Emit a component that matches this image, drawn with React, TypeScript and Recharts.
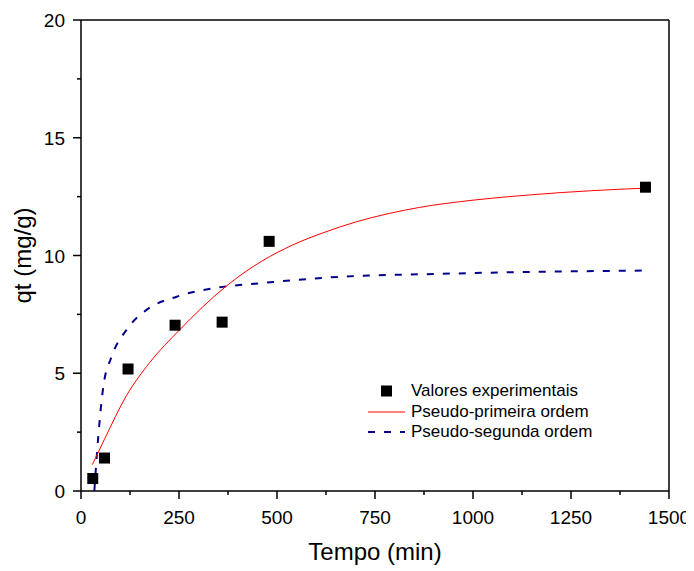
import React from "react";
import {
  ComposedChart,
  Line,
  Scatter,
  XAxis,
  YAxis,
  ReferenceLine,
  Legend,
} from "recharts";

// experimental points (t in min, qt in mg/g)
const expTime = [30, 60, 120, 240, 360, 480, 1440];
const expQt = [0.53, 1.4, 5.18, 7.04, 7.17, 10.6, 12.9];

// pseudo-first order curve
const pfoTime = [29, 60, 116, 175, 252, 367, 439, 481, 558, 617, 702, 787, 863, 1000, 1150, 1300, 1440];
const pfoQt = [1.12, 2.2, 4.05, 5.45, 6.85, 8.65, 9.53, 9.95, 10.58, 10.96, 11.43, 11.79, 12.04, 12.35, 12.58, 12.75, 12.86];

// pseudo-second order curve
const psoTime = [34, 44, 57, 78, 116, 167, 244, 354, 456, 634, 914, 1177, 1440];
const psoQt = [0, 2.3, 4.44, 5.7, 6.84, 7.69, 8.25, 8.65, 8.82, 9.07, 9.22, 9.31, 9.36];

const xTicks = [0, 125, 250, 375, 500, 625, 750, 875, 1000, 1125, 1250, 1375, 1500];
const yTicks = [0, 2.5, 5, 7.5, 10, 12.5, 15, 17.5, 20];

const legendItems = [
  { name: "Valores experimentais", kind: "square", color: "#000000" },
  { name: "Pseudo-primeira ordem", kind: "line", color: "#ff0000" },
  { name: "Pseudo-segunda ordem", kind: "dash", color: "#00008b" },
];

const FONT = "'Liberation Sans', Arial, sans-serif";

const expData = expTime.map((t, i) => ({ t, q: expQt[i] }));
const pfoData = pfoTime.map((t, i) => ({ t, q: pfoQt[i] }));
const psoData = psoTime.map((t, i) => ({ t, q: psoQt[i] }));

function XTick(props: any) {
  const { x, y, payload } = props;
  const major = payload.value % 250 === 0;
  return (
    <g>
      <line x1={x} x2={x} y1={y} y2={y + (major ? 8 : 4)} stroke="#000" strokeWidth={1.5} />
      {major && (
        <text x={x} y={y + 33} textAnchor="middle" fontSize={19} fontFamily={FONT} fill="#000">
          {payload.value}
        </text>
      )}
    </g>
  );
}

function YTick(props: any) {
  const { x, y, payload } = props;
  const major = payload.value % 5 === 0;
  return (
    <g>
      <line x1={x - (major ? 8 : 4)} x2={x} y1={y} y2={y} stroke="#000" strokeWidth={1.5} />
      {major && (
        <text x={x - 16} y={y + 7} textAnchor="end" fontSize={19} fontFamily={FONT} fill="#000">
          {payload.value}
        </text>
      )}
    </g>
  );
}

const Square = (props: any) => {
  const { cx, cy } = props;
  return <rect x={cx - 5.5} y={cy - 5.5} width={11} height={11} fill="#000" />;
};

function renderLegend() {
  return (
    <div style={{ fontFamily: FONT, fontSize: 17, color: "#000" }}>
      {legendItems.map((it) => (
        <div key={it.name} style={{ display: "flex", alignItems: "center", height: 20.5 }}>
          <svg width={43} height={20}>
            {it.kind === "square" && <rect x={13} y={4.5} width={11} height={11} fill={it.color} />}
            {it.kind === "line" && <line x1={0} x2={37} y1={10} y2={10} stroke={it.color} strokeWidth={1} />}
            {it.kind === "dash" && (
              <line x1={0} x2={37} y1={10} y2={10} stroke={it.color} strokeWidth={2} strokeDasharray="7 9" />
            )}
          </svg>
          <span>{it.name}</span>
        </div>
      ))}
    </div>
  );
}

export default function App() {
  return (
    <ComposedChart
      width={686}
      height={563}
      margin={{ top: 12, right: 25, bottom: 0, left: 0 }}
      style={{ fontFamily: FONT }}
    >
      <XAxis
        type="number"
        dataKey="t"
        domain={[0, 1500]}
        ticks={xTicks}
        interval={0}
        height={80}
        tickSize={0}
        tickMargin={0}
        tick={<XTick />}
        axisLine={{ stroke: "#000", strokeWidth: 1.5 }}
        label={{
          content: (p: any) => {
            const vb = p.viewBox;
            return (
              <text x={vb.x + vb.width / 2} y={vb.y + 69} textAnchor="middle" fontSize={24} fontFamily={FONT} fill="#000">
                Tempo (min)
              </text>
            );
          },
        }}
      />
      <YAxis
        type="number"
        dataKey="q"
        domain={[0, 20]}
        ticks={yTicks}
        interval={0}
        width={73}
        tickSize={0}
        tickMargin={0}
        tick={<YTick />}
        axisLine={{ stroke: "#000", strokeWidth: 1.5 }}
        label={{
          content: (p: any) => {
            const vb = p.viewBox;
            const cx = 23;
            const cy = vb.y + vb.height / 2;
            return (
              <text
                x={cx}
                y={cy}
                textAnchor="middle"
                fontSize={24}
                fontFamily={FONT}
                fill="#000"
                transform={`rotate(-90, ${cx}, ${cy})`}
              >
                qt (mg/g)
              </text>
            );
          },
        }}
      />
      <ReferenceLine y={20} stroke="#000" strokeWidth={1.5} />
      <ReferenceLine x={1500} stroke="#000" strokeWidth={1.5} />
      <Line
        data={psoData}
        dataKey="q"
        type="monotone"
        stroke="#00008b"
        strokeWidth={2}
        strokeDasharray="7 9"
        dot={false}
        isAnimationActive={false}
      />
      <Line
        data={pfoData}
        dataKey="q"
        type="monotone"
        stroke="#ff0000"
        strokeWidth={1}
        dot={false}
        isAnimationActive={false}
      />
      <Scatter data={expData} dataKey="q" shape={<Square />} isAnimationActive={false} />
      <Legend
        layout="vertical"
        align="center"
        verticalAlign="middle"
        content={renderLegend}
        wrapperStyle={{ left: 360, top: 373, width: 280 }}
      />
    </ComposedChart>
  );
}
